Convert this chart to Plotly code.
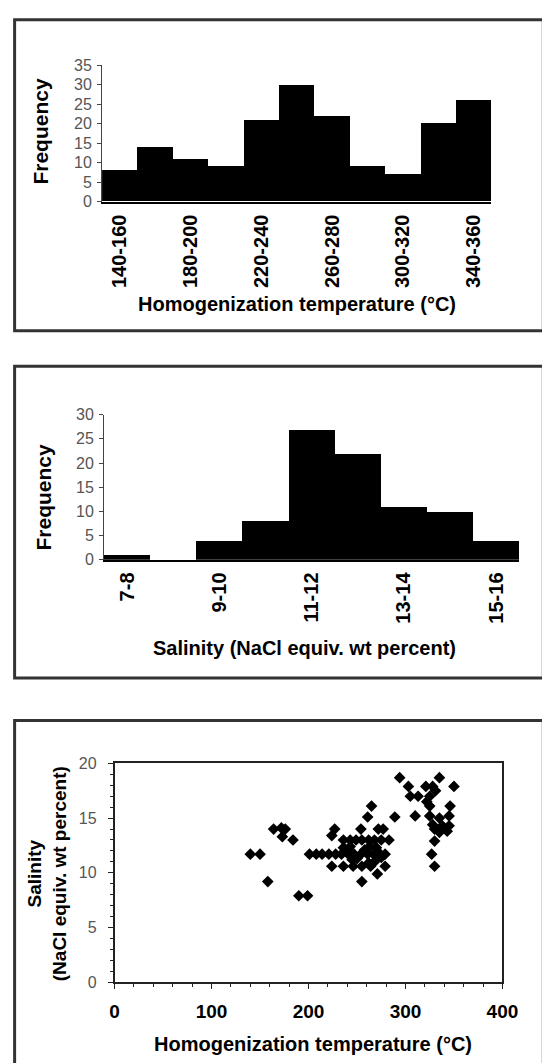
import plotly.graph_objects as go

W, H = 542, 1063

# ---- data ----
temp_bins = ["140-160", "160-180", "180-200", "200-220", "220-240", "240-260",
             "260-280", "280-300", "300-320", "320-340", "340-360"]
temp_freq = [8, 14, 11, 9, 21, 30, 22, 9, 7, 20, 26]

sal_bins = ["7-8", "8-9", "9-10", "10-11", "11-12", "12-13", "13-14", "14-15", "15-16"]
sal_freq = [1, 0, 4, 8, 27, 22, 11, 10, 4]

scatter_temp = [140, 150, 158, 164, 172, 176, 173, 184, 190, 199,
                201, 208, 214, 221, 228, 234, 241, 247, 254, 261, 267, 274, 279,
                236, 243, 249, 255, 262, 268, 275, 283,
                224, 236, 246, 255, 264, 279,
                255, 271,
                224, 227, 254, 261, 265, 272, 277, 289,
                236, 240, 243, 250, 258, 263, 270, 275, 268, 262, 245,
                294, 303, 305, 313, 310, 321, 328, 335, 325, 325, 325, 328, 330,
                330, 327, 330, 335, 338, 345, 346, 345, 350, 343, 335, 322, 331]
scatter_sal = [11.7, 11.7, 9.2, 14.0, 14.1, 14.0, 13.3, 13.0, 7.9, 7.9,
               11.7, 11.7, 11.7, 11.7, 11.7, 11.7, 11.7, 11.7, 11.7, 11.7, 11.7, 11.7, 11.7,
               13.0, 13.0, 13.0, 13.0, 13.0, 13.0, 13.0, 13.0,
               10.6, 10.6, 10.6, 10.6, 10.6, 10.6,
               9.2, 9.9,
               13.4, 14.0, 14.0, 15.1, 16.1, 14.0, 14.0, 15.1,
               12.3, 12.0, 12.4, 11.3, 12.1, 12.4, 12.3, 11.4, 11.0, 10.9, 11.2,
               18.7, 17.9, 17.0, 17.0, 15.2, 17.9, 17.9, 18.7, 17.0, 16.1, 15.2, 14.4, 14.0,
               12.9, 11.7, 10.6, 15.0, 14.3, 14.3, 16.1, 15.2, 17.9, 13.8, 13.7, 16.5, 17.5]

temp_ticks = temp_bins[::2]
sal_ticks = sal_bins[::2]


def px(x):
    return x / W


def py(y):
    return 1 - y / H


FONT = "Liberation Sans, Arial, sans-serif"
GRAY = "#555555"

fig = go.Figure()
fig.add_trace(go.Bar(x=temp_bins, y=temp_freq, width=1,
                     marker=dict(color="black", line=dict(width=0)),
                     xaxis="x", yaxis="y", hoverinfo="x+y"))
fig.add_trace(go.Bar(x=sal_bins, y=sal_freq, width=1,
                     marker=dict(color="black", line=dict(width=0)),
                     xaxis="x2", yaxis="y2", hoverinfo="x+y"))
fig.add_trace(go.Scatter(x=scatter_temp, y=scatter_sal, mode="markers",
                         marker=dict(symbol="diamond", size=9, color="black",
                                     line=dict(width=0)),
                         xaxis="x3", yaxis="y3"))

hist_x = dict(type="category", tickangle=-90, showline=True, linecolor="black",
              linewidth=1.5, ticks="", showgrid=False, zeroline=False,
              ticklabelstandoff=3,
              tickfont=dict(family=FONT, size=20, color="black", weight="bold"))
hist_y = dict(showline=True, linecolor="#444", linewidth=1, ticks="outside",
              ticklen=4, tickcolor="#444", showgrid=False, zeroline=False,
              dtick=5, ticklabelstandoff=2,
              tickfont=dict(family=FONT, size=16, color=GRAY))

fig.update_layout(
    width=W, height=H, margin=dict(l=0, r=0, t=0, b=0),
    paper_bgcolor="white", plot_bgcolor="white", showlegend=False,
    bargap=0,
    xaxis=dict(hist_x, domain=[px(101), px(506)], anchor="y",
               range=[-0.5, 10.5], tickvals=temp_ticks),
    yaxis=dict(hist_y, domain=[py(197), py(58.3)], anchor="x", range=[0, 35]),
    xaxis2=dict(hist_x, domain=[px(103), px(535)], anchor="y2",
                range=[-0.5, 8.5], tickvals=sal_ticks),
    yaxis2=dict(hist_y, domain=[py(560.7), py(413.3)], anchor="x2", range=[0, 30]),
    xaxis3=dict(domain=[px(114), px(517.5)], anchor="y3", range=[0, 400],
                dtick=100, showline=True, mirror=True, linecolor="#222",
                linewidth=1.5, ticks="outside", ticklen=5, tickcolor="#222",
                minor=dict(dtick=20, ticks="outside", ticklen=3, tickcolor="#222"),
                showgrid=False, zeroline=False, ticklabelstandoff=6,
                tickfont=dict(family=FONT, size=19, color="black", weight="bold")),
    yaxis3=dict(domain=[py(990), py(767.7)], anchor="x3", range=[0, 20],
                dtick=5, showline=True, mirror=True, linecolor="#222",
                linewidth=1.5, ticks="outside", ticklen=5, tickcolor="#222",
                minor=dict(dtick=1, ticks="outside", ticklen=3, tickcolor="#222"),
                showgrid=False, zeroline=False, ticklabelstandoff=8,
                tickfont=dict(family=FONT, size=16, color=GRAY)),
)

# panel frames
for (t, b) in [(12, 328), (364, 681), (724, 1100)]:
    fig.add_shape(type="rect", xref="paper", yref="paper",
                  x0=px(10), x1=px(560), y0=py(b), y1=py(t),
                  line=dict(color="#333", width=3), layer="below")

title_font = dict(family=FONT, size=20, color="black", weight="bold")
ann = [
    dict(text="Frequency", x=px(36), y=py(125), textangle=-90,
         font=dict(title_font, size=21)),
    dict(text="Homogenization temperature (°C)", x=px(304), y=py(301), font=title_font),
    dict(text="Frequency", x=px(40), y=py(497), textangle=-90,
         font=dict(title_font, size=21)),
    dict(text="Salinity (NaCl equiv. wt percent)", x=px(312), y=py(650), font=title_font),
    dict(text="Salinity<br>(NaCl equiv. wt percent)", x=px(44), y=py(880),
         textangle=-90, font=dict(title_font, size=19)),
    dict(text="Homogenization temperature (°C)", x=px(320), y=py(1053), font=title_font),
]
for a in ann:
    fig.add_annotation(xref="paper", yref="paper", showarrow=False,
                       xanchor="center", yanchor="middle", **a)

fig.write_html("out.html")
